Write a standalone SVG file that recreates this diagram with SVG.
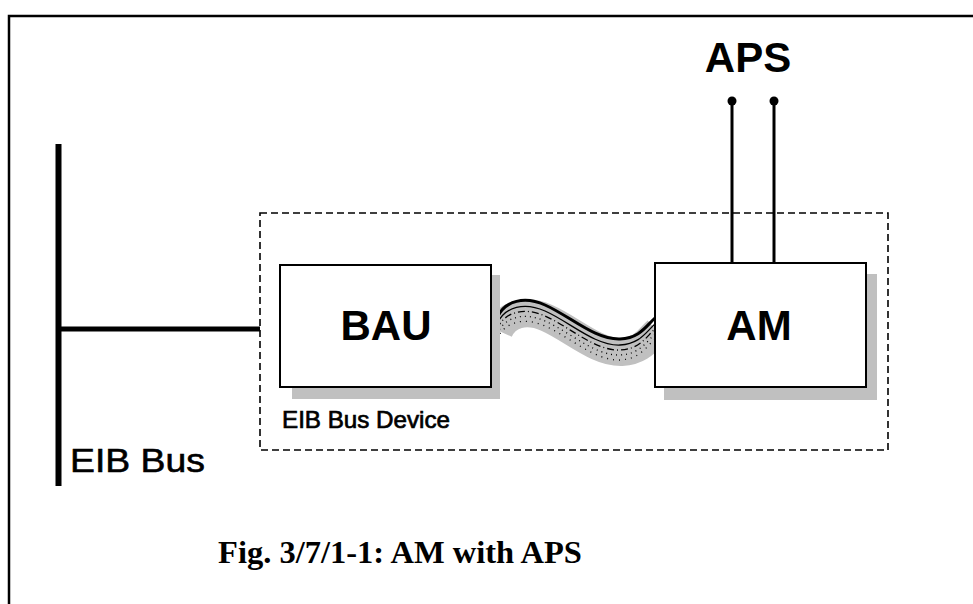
<svg xmlns="http://www.w3.org/2000/svg" width="973" height="604" viewBox="0 0 973 604">
  <style>
    .box { fill: #ffffff; stroke: #000000; stroke-width: 2; }
    .shadow { fill: #c0c0c0; stroke: none; }
    .label { font-family: "Liberation Sans", Arial, sans-serif; fill: #000000; }
    .bold { font-weight: bold; }
    .wire { stroke: #000000; fill: none; }
    .caption { font-family: "Liberation Serif", "Times New Roman", serif; font-weight: bold; fill: #000000; }
  </style>
  <defs>
    <!-- centre line of the ribbon cable between BAU and AM -->
    <path id="cableCurve" d="M 497 318 C 505 300, 525 296, 545 305 C 570 316, 595 340, 620 339 C 640 338, 646 326, 655 318"/>
  </defs>

  <rect x="0" y="0" width="973" height="604" fill="#ffffff"/>

  <!-- page frame -->
  <path d="M 9 604 L 9 16 L 973 16" fill="none" stroke="#000000" stroke-width="2.5"/>

  <!-- device boundary -->
  <g id="device-boundary">
    <rect x="260" y="213" width="628" height="237" fill="none" stroke="#000000" stroke-width="1.6" stroke-dasharray="7 4"/>
    <text class="label" x="282" y="428" font-size="24" stroke="#000000" stroke-width="0.7" textLength="168" lengthAdjust="spacingAndGlyphs">EIB Bus Device</text>
  </g>

  <!-- bus line -->
  <g id="eib-bus">
    <line x1="58.5" y1="144" x2="58.5" y2="486" stroke="#000000" stroke-width="6"/>
    <text class="label" x="70" y="472" font-size="34" stroke="#000000" stroke-width="0.6" textLength="135" lengthAdjust="spacingAndGlyphs">EIB Bus</text>
  </g>

  <g id="connectors">
    <!-- bus to device -->
    <line class="wire" x1="58" y1="329" x2="260" y2="329" stroke-width="5"/>
    <!-- ribbon cable BAU - AM -->
    <g id="cable">
      <use href="#cableCurve" transform="translate(2,13)" fill="none" stroke="#c0c0c0" stroke-width="28"/>
      <use href="#cableCurve" class="wire" stroke-width="3"/>
      <use href="#cableCurve" class="wire" transform="translate(0,6)" stroke-width="1.3"/>
      <use href="#cableCurve" class="wire" transform="translate(0,11)" stroke-width="1.3" stroke-dasharray="7 3 1 3"/>
      <use href="#cableCurve" class="wire" transform="translate(0,16)" stroke-width="1.3" stroke-dasharray="1 4"/>
      <use href="#cableCurve" class="wire" transform="translate(0,21)" stroke-width="1.3" stroke-dasharray="1 5"/>
    </g>
    <!-- APS leads -->
    <line class="wire" x1="732" y1="101" x2="732" y2="263" stroke-width="3"/>
    <line class="wire" x1="774" y1="101" x2="774" y2="263" stroke-width="3"/>
    <circle cx="732" cy="101" r="4.5" fill="#000000"/>
    <circle cx="774" cy="101" r="4.5" fill="#000000"/>
  </g>

  <g id="bau">
    <rect class="shadow" x="292" y="275" width="208" height="124"/>
    <rect class="box" x="280" y="265" width="211" height="122"/>
    <text class="label bold" x="386" y="340" font-size="42" text-anchor="middle">BAU</text>
  </g>

  <g id="am">
    <rect class="shadow" x="664" y="274" width="213" height="126"/>
    <rect class="box" x="655" y="263" width="211" height="124"/>
    <text class="label bold" x="759" y="340" font-size="42" text-anchor="middle">AM</text>
  </g>

  <g id="aps">
    <text class="label bold" x="748" y="72" font-size="42" text-anchor="middle">APS</text>
  </g>

  <text class="caption" x="400" y="563" font-size="32.5" text-anchor="middle">Fig. 3/7/1-1: AM with APS</text>
</svg>
